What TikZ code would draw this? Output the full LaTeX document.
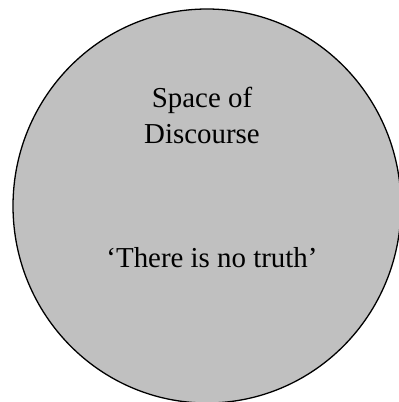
\documentclass[tikz,border=0pt]{standalone}
\usepackage{fontspec}
\setmainfont{Liberation Serif}
\usepackage{xcolor}
\definecolor{discourse}{HTML}{C0C0C0}
\usepackage{tikz}
\tikzset{label text/.style={align=center,font=\fontsize{29}{36}\selectfont,text=black,inner sep=0pt}}

\begin{document}
\begin{tikzpicture}[x=1bp,y=-1bp,line cap=round,line join=round]
  \useasboundingbox (0,0) rectangle (399,402);
  \clip (0,0) rectangle (399,402);
  \filldraw[fill=discourse,draw=black,line width=1.3pt] (207,206) ellipse (194 and 197);
  \node[label text,anchor=base] (space) at (202,143) {Space of\\Discourse};
  \node[label text,anchor=base] (truth) at (212,267) {‘There is no truth’};
\end{tikzpicture}
\end{document}
